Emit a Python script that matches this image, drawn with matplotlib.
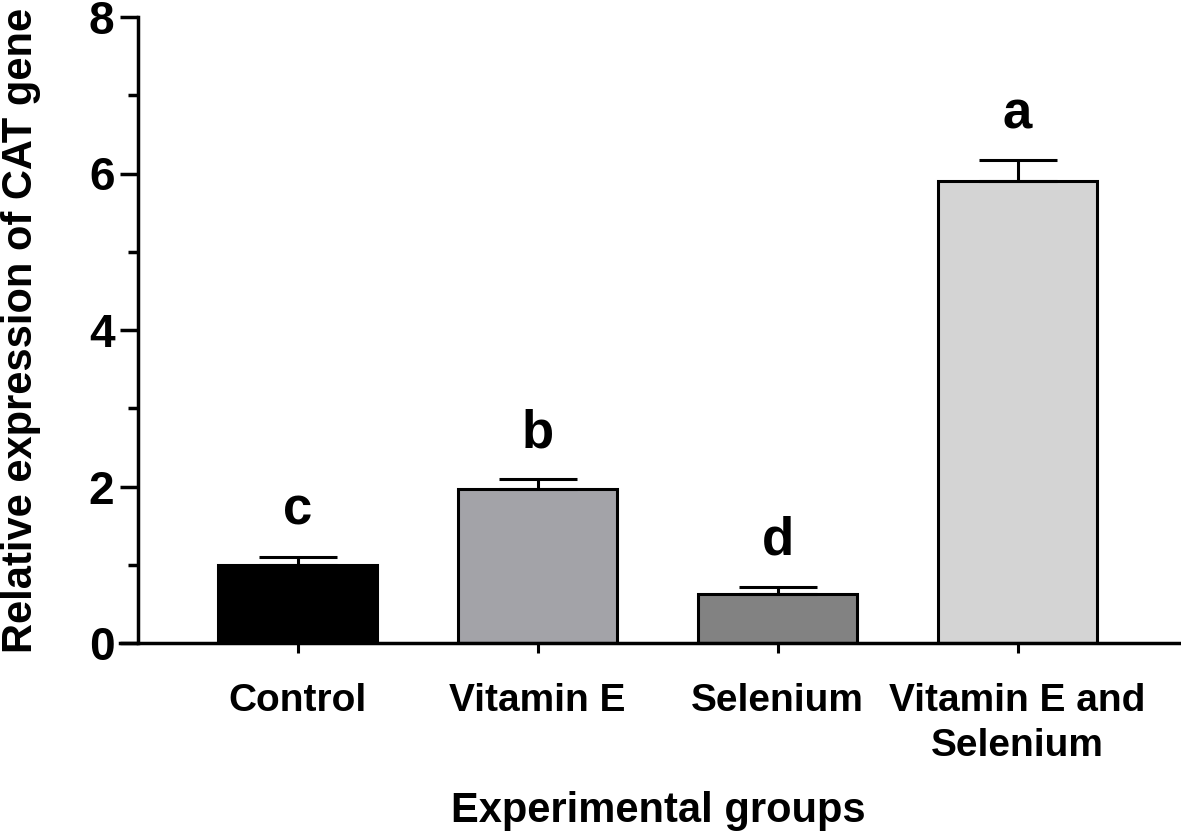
import matplotlib.pyplot as plt
import numpy as np

# CAT gene relative expression
groups = ['Control', 'Vitamin E', 'Selenium', 'Vitamin E and\nSelenium']
means = [1.0, 1.97, 0.62, 5.90]
sems = [0.10, 0.12, 0.10, 0.27]
letters = ['c', 'b', 'd', 'a']
colors = ['#000000', '#A3A3A8', '#828282', '#D4D4D4']

plt.rcParams['font.family'] = 'Liberation Sans'
plt.rcParams['font.weight'] = 'bold'

fig = plt.figure(figsize=(11.81, 8.35), dpi=100, facecolor='white')
ax = fig.add_axes([120 / 1181, 192 / 835, 1 - 120 / 1181, 626 / 835])

x = np.arange(len(groups))
ax.bar(x, means, width=0.66, color=colors, edgecolor='black', linewidth=2.2, zorder=2)
ax.errorbar(x, means, yerr=[np.zeros(len(sems)), sems], fmt='none', ecolor='black',
            elinewidth=2.2, capsize=28, capthick=2.2, zorder=3)

# significance letters
for xi, m, s, lab in zip(x, means, sems, letters):
    ax.annotate(lab, (xi, m + s), xytext=(0, 23), textcoords='offset points',
                ha='center', va='baseline', fontsize=38, fontweight='bold')

ax.set_xlim(-0.7396, 3.681)
ax.set_ylim(0, 8)
ax.spines['top'].set_visible(False)
ax.spines['right'].set_visible(False)
ax.spines['left'].set_position(('data', -0.6646))
for sp in ['left', 'bottom']:
    ax.spines[sp].set_linewidth(2.5)

ax.set_yticks([0, 2, 4, 6, 8])
ax.set_yticks([1, 3, 5, 7], minor=True)
ax.set_xticks(x)
ax.set_xticklabels(groups, fontsize=28, fontweight='bold', linespacing=1.3)
ax.tick_params(axis='y', which='major', length=13, width=2.5, labelsize=33, pad=4)
ax.tick_params(axis='y', which='minor', length=7, width=2.5)
ax.tick_params(axis='x', which='major', length=7, width=2.2, pad=22)
for t in ax.get_yticklabels():
    t.set_fontweight('bold')

ax.set_xlabel('Experimental groups', fontsize=30, fontweight='bold')
ax.xaxis.set_label_coords(0.507, -0.237)
ax.set_ylabel('Relative expression of CAT gene', fontsize=30, fontweight='bold')
ax.yaxis.set_label_coords(-0.0745, 0.5)

plt.savefig('out.png', dpi=100, facecolor='white')
